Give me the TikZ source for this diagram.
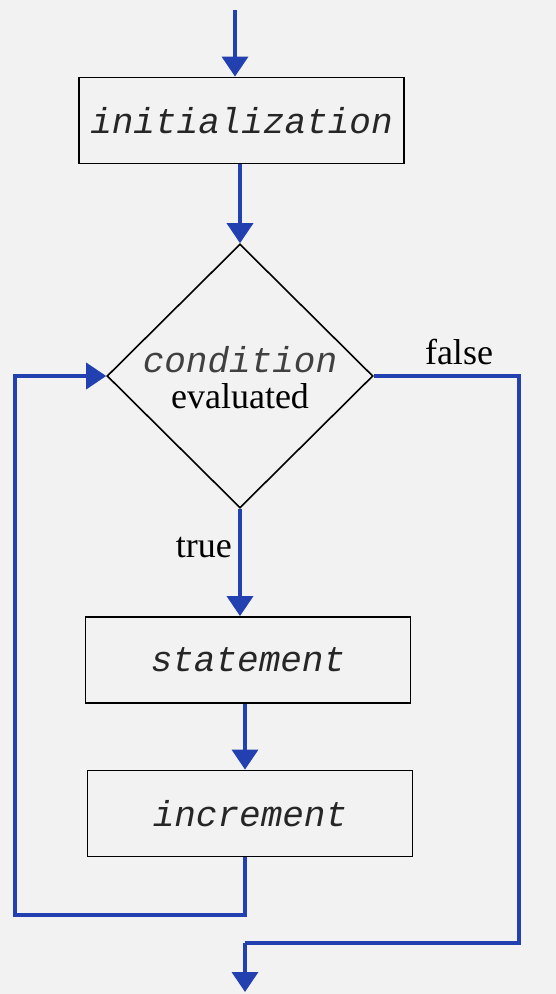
\documentclass[tikz,border=0pt]{standalone}
\usepackage{fontspec}
\setmainfont{Liberation Serif}
\newfontfamily\monoit{Liberation Mono Italic}
\usetikzlibrary{arrows.meta,shapes.geometric}
\definecolor{bg}{HTML}{F2F2F2}
\definecolor{flow}{HTML}{2340B0}
\tikzset{
  procbox/.style={draw=black, line width=1.8pt, fill=bg, minimum width=325pt, minimum height=86pt, inner sep=0pt, text=black!85, font=\monoit\fontsize{36}{40}\selectfont},
  decision/.style={shape=diamond, draw=black, line width=1.6pt, minimum width=266pt, minimum height=264pt, inner sep=0pt},
  flowline/.style={draw=flow, line width=3.6pt},
  flowarrow/.style={flowline, -{Triangle[length=20pt,width=26pt]}},
  lbl/.style={font=\fontsize{36}{40}\selectfont, inner sep=0pt},
  monolbl/.style={font=\monoit\fontsize{36}{40}\selectfont, inner sep=0pt, text=black!75}
}
\begin{document}
\begin{tikzpicture}[x=1pt,y=-1pt]
\fill[bg] (0,0) rectangle (556,994);
\useasboundingbox (0,0) rectangle (556,994);

\node[procbox] (init) at (241.5,120.5) {initialization};
\node[decision] (cond) at (240,376) {};
\node[monolbl] (condtxt) at (240,360) {condition};
\node[lbl] (evaltxt) at (240,396) {evaluated};
\node[procbox] (stmt) at (248,660) {statement};
\node[procbox] (inc) at (250,813.5) {increment};

\coordinate (start) at (235,10);
\coordinate (end) at (245,992);
\coordinate (rt) at (519,376);
\coordinate (rb) at (519,943);
\coordinate (lb) at (15,915);

\draw[flowarrow] (start) -- (start |- init.north);
\draw[flowarrow] (cond.north |- init.south) -- (cond.north);
\draw[flowarrow] (cond.south) -- (cond.south |- stmt.north);
\draw[flowarrow] (stmt.south -| 245,0) -- (245,0 |- inc.north);
\draw[flowarrow] (inc.south -| 245,0) -- (245,915) -- (lb) -- (lb |- cond.west) -- (cond.west);
\draw[flowline] (cond.east) -- (rt) -- (rb) -- (end |- rb);
\draw[flowarrow] (end |- rb) -- (end);

\node[lbl] (falselbl) at (459,352) {false};
\node[lbl, anchor=east] (truelbl) at (232,548) {true};
\end{tikzpicture}
\end{document}
